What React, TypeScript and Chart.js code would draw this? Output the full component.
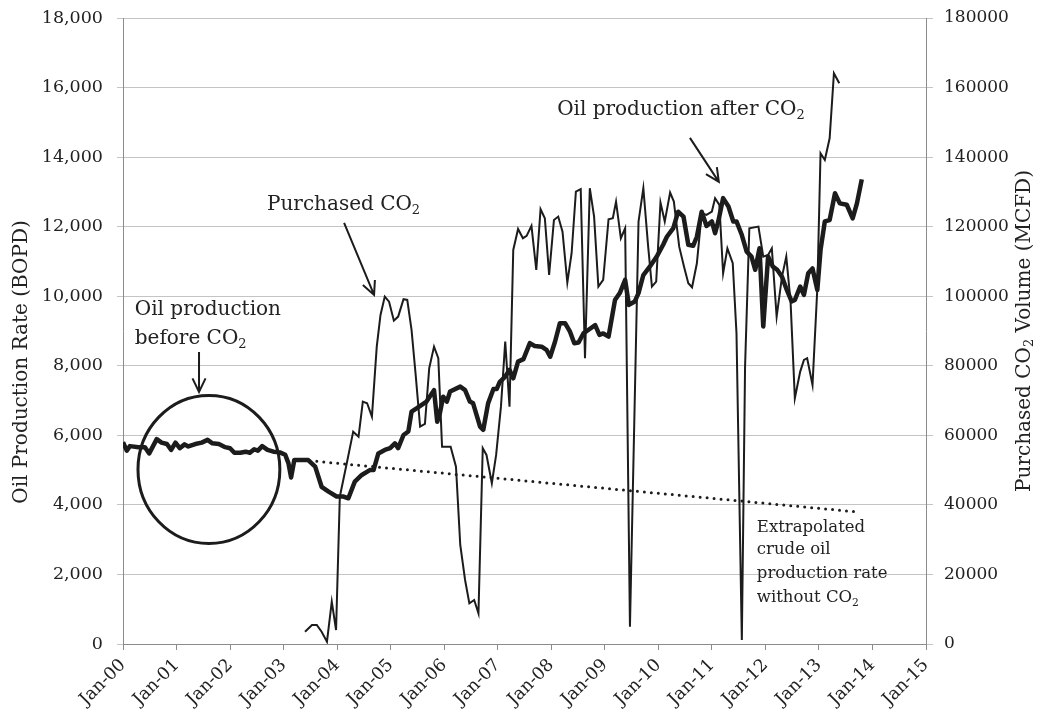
import { useEffect, useRef } from 'react';
import { Chart, registerables } from 'chart.js';

Chart.register(...registerables);

const FONT = '"DejaVu Serif", "Liberation Serif", serif';
const INK = '#1c1c1c';

const xTickLabels = ['Jan-00', 'Jan-01', 'Jan-02', 'Jan-03', 'Jan-04', 'Jan-05', 'Jan-06', 'Jan-07', 'Jan-08', 'Jan-09', 'Jan-10', 'Jan-11', 'Jan-12', 'Jan-13', 'Jan-14', 'Jan-15'];

// Oil production rate (BOPD), x in years since Jan-00
const oilYears = [0.0, 0.07, 0.13, 0.29, 0.41, 0.49, 0.63, 0.72, 0.82, 0.9, 0.98, 1.06, 1.15, 1.22, 1.35, 1.47, 1.58, 1.67, 1.79, 1.91, 2.0, 2.08, 2.19, 2.29, 2.37, 2.45, 2.52, 2.6, 2.7, 2.81, 2.93, 3.03, 3.09, 3.14, 3.2, 3.31, 3.46, 3.59, 3.71, 3.84, 3.99, 4.12, 4.21, 4.33, 4.46, 4.61, 4.68, 4.77, 4.89, 4.99, 5.08, 5.14, 5.24, 5.33, 5.39, 5.49, 5.67, 5.81, 5.87, 5.92, 5.98, 6.05, 6.11, 6.3, 6.39, 6.48, 6.54, 6.67, 6.73, 6.82, 6.92, 6.98, 7.04, 7.14, 7.22, 7.29, 7.38, 7.48, 7.6, 7.69, 7.82, 7.91, 7.98, 8.07, 8.16, 8.26, 8.35, 8.43, 8.51, 8.6, 8.69, 8.82, 8.9, 8.97, 9.07, 9.19, 9.28, 9.38, 9.45, 9.56, 9.63, 9.72, 9.84, 9.97, 10.09, 10.16, 10.28, 10.37, 10.47, 10.56, 10.65, 10.72, 10.81, 10.9, 11.0, 11.06, 11.12, 11.21, 11.31, 11.4, 11.46, 11.56, 11.65, 11.74, 11.81, 11.89, 11.96, 12.05, 12.14, 12.22, 12.31, 12.4, 12.49, 12.55, 12.65, 12.72, 12.8, 12.88, 12.97, 13.03, 13.11, 13.2, 13.3, 13.39, 13.52, 13.63, 13.71, 13.8];
const oilRate = [5800, 5560, 5690, 5660, 5660, 5480, 5890, 5790, 5750, 5580, 5790, 5630, 5740, 5680, 5750, 5790, 5870, 5770, 5750, 5660, 5630, 5500, 5500, 5530, 5500, 5600, 5560, 5690, 5580, 5530, 5510, 5440, 5200, 4790, 5290, 5290, 5290, 5100, 4520, 4380, 4240, 4240, 4190, 4670, 4860, 5000, 5000, 5480, 5580, 5630, 5770, 5630, 6010, 6110, 6680, 6780, 6970, 7300, 6390, 6640, 7110, 6970, 7260, 7400, 7300, 6970, 6920, 6250, 6160, 6920, 7330, 7330, 7540, 7690, 7880, 7640, 8120, 8190, 8650, 8570, 8550, 8460, 8260, 8690, 9220, 9220, 8980, 8650, 8670, 8930, 9030, 9170, 8890, 8930, 8840, 9890, 10090, 10470, 9750, 9850, 10090, 10610, 10850, 11140, 11480, 11710, 11960, 12430, 12290, 11480, 11450, 11710, 12430, 12020, 12150, 11810, 12150, 12820, 12580, 12150, 12150, 11760, 11280, 11140, 10760, 11380, 9130, 11140, 10850, 10760, 10560, 10180, 9850, 9890, 10280, 10040, 10660, 10800, 10180, 11330, 12150, 12190, 12960, 12670, 12630, 12240, 12670, 13360];

// Purchased CO2 volume (MCFD)
const co2Years = [3.4, 3.53, 3.62, 3.71, 3.81, 3.9, 3.98, 4.05, 4.18, 4.3, 4.4, 4.48, 4.56, 4.65, 4.74, 4.81, 4.89, 4.97, 5.06, 5.14, 5.24, 5.31, 5.39, 5.47, 5.55, 5.64, 5.72, 5.81, 5.89, 5.96, 6.12, 6.22, 6.3, 6.39, 6.47, 6.56, 6.64, 6.72, 6.79, 6.89, 6.97, 7.06, 7.14, 7.22, 7.29, 7.38, 7.47, 7.54, 7.63, 7.72, 7.8, 7.88, 7.96, 8.05, 8.13, 8.21, 8.3, 8.38, 8.46, 8.55, 8.63, 8.72, 8.8, 8.88, 8.97, 9.07, 9.15, 9.21, 9.3, 9.38, 9.47, 9.63, 9.72, 9.81, 9.88, 9.96, 10.04, 10.12, 10.22, 10.29, 10.39, 10.48, 10.56, 10.63, 10.72, 10.81, 10.9, 11.0, 11.06, 11.14, 11.21, 11.29, 11.39, 11.46, 11.56, 11.62, 11.7, 11.87, 11.96, 12.05, 12.12, 12.21, 12.31, 12.39, 12.47, 12.55, 12.65, 12.72, 12.78, 12.88, 12.97, 13.03, 13.11, 13.2, 13.28, 13.38];
const co2Volume = [3500, 5460, 5460, 3540, 660, 12170, 4030, 42360, 51960, 61060, 59620, 69690, 69220, 65380, 85500, 94620, 99880, 98440, 92980, 94140, 99130, 98930, 90300, 76860, 62500, 63270, 79300, 85500, 82170, 56740, 56740, 51000, 28480, 18400, 11700, 12650, 8830, 56280, 54360, 46220, 54360, 68250, 86940, 68250, 113300, 119350, 116680, 117340, 120220, 107560, 125020, 122430, 106120, 121940, 122900, 118580, 103920, 112360, 130080, 130770, 82170, 131060, 122900, 102760, 104690, 122140, 122430, 127200, 116680, 119540, 4990, 121460, 131060, 114260, 102760, 104200, 126920, 121460, 129790, 127200, 114260, 108500, 103730, 102570, 109480, 123860, 123370, 124330, 128170, 126250, 106600, 113780, 109480, 89360, 1150, 79750, 119540, 120020, 111380, 111860, 113780, 94140, 105640, 111380, 98440, 70660, 78320, 81680, 82170, 74490, 102300, 141120, 139190, 145420, 164130, 161250];

// Extrapolated oil rate without CO2 (BOPD)
const trendYears = [3.49, 13.67];
const trendRate = [5270, 3805];

const toXY = (xs: number[], ys: number[]) => xs.map((x, i) => ({ x, y: ys[i] }));

type Part = [string, boolean];

function richWidth(ctx: CanvasRenderingContext2D, parts: Part[], size: number) {
  let w = 0;
  for (const [t, sub] of parts) {
    ctx.font = `${sub ? size * 0.65 : size}px ${FONT}`;
    w += ctx.measureText(t).width;
  }
  return w;
}

function drawRich(ctx: CanvasRenderingContext2D, parts: Part[], x: number, y: number, size: number) {
  let cx = x;
  for (const [t, sub] of parts) {
    const fs = sub ? size * 0.65 : size;
    ctx.font = `${fs}px ${FONT}`;
    ctx.fillText(t, cx, sub ? y + size * 0.22 : y);
    cx += ctx.measureText(t).width;
  }
}

function arrow(ctx: CanvasRenderingContext2D, x0: number, y0: number, x1: number, y1: number) {
  const ang = Math.atan2(y1 - y0, x1 - x0);
  const hl = 15;
  const ha = 0.45;
  ctx.beginPath();
  ctx.moveTo(x0, y0);
  ctx.lineTo(x1, y1);
  ctx.moveTo(x1 - hl * Math.cos(ang - ha), y1 - hl * Math.sin(ang - ha));
  ctx.lineTo(x1, y1);
  ctx.lineTo(x1 - hl * Math.cos(ang + ha), y1 - hl * Math.sin(ang + ha));
  ctx.stroke();
}

function verticalTitle(ctx: CanvasRenderingContext2D, parts: Part[], x: number, y: number, size: number) {
  ctx.save();
  const w = richWidth(ctx, parts, size);
  ctx.translate(x, y);
  ctx.rotate(-Math.PI / 2);
  ctx.textBaseline = 'middle';
  ctx.textAlign = 'left';
  drawRich(ctx, parts, -w / 2, 0, size);
  ctx.restore();
}

const annotationPlugin = {
  id: 'annotations',
  afterDatasetsDraw(chart: any) {
    const ctx: CanvasRenderingContext2D = chart.ctx;
    const xs = chart.scales.x;
    const ys = chart.scales.y;
    const X = (v: number) => xs.getPixelForValue(v);
    const Y = (v: number) => ys.getPixelForValue(v);
    ctx.save();
    ctx.strokeStyle = INK;
    ctx.fillStyle = '#222';
    ctx.lineCap = 'butt';
    ctx.lineJoin = 'miter';

    // circle around pre-CO2 production
    const cx0 = X(0.28), cx1 = X(2.93), cy0 = Y(7148), cy1 = Y(2890);
    ctx.lineWidth = 3;
    ctx.beginPath();
    ctx.ellipse((cx0 + cx1) / 2, (cy0 + cy1) / 2, (cx1 - cx0) / 2, (cy1 - cy0) / 2, 0, 0, Math.PI * 2);
    ctx.stroke();

    // arrows
    ctx.lineWidth = 2;
    arrow(ctx, X(4.13), Y(12108), X(4.69), Y(10037));
    arrow(ctx, X(1.42), Y(8398), X(1.42), Y(7248));
    arrow(ctx, X(10.59), Y(14553), X(11.13), Y(13287));

    // texts
    ctx.textBaseline = 'alphabetic';
    ctx.textAlign = 'left';
    drawRich(ctx, [['Purchased CO', false], ['2', true]], X(2.69), Y(12482), 20);
    drawRich(ctx, [['Oil production', false]], X(0.22), Y(9462), 20);
    drawRich(ctx, [['before CO', false], ['2', true]], X(0.22), Y(8628), 20);
    drawRich(ctx, [['Oil production after CO', false], ['2', true]], X(8.11), Y(15214), 20);
    drawRich(ctx, [['Extrapolated', false]], X(11.84), Y(3221), 16.5);
    drawRich(ctx, [['crude oil', false]], X(11.84), Y(2588), 16.5);
    drawRich(ctx, [['production rate', false]], X(11.84), Y(1898), 16.5);
    drawRich(ctx, [['without CO', false], ['2', true]], X(11.84), Y(1208), 16.5);

    // axis titles
    verticalTitle(ctx, [['Oil Production Rate (BOPD)', false]], 22, 362, 20);
    verticalTitle(ctx, [['Purchased CO', false], ['2', true], [' Volume (MCFD)', false]], 1025, (chart.chartArea.top + chart.chartArea.bottom) / 2, 20);
    ctx.restore();
  },
};

export default function App() {
  const ref = useRef<HTMLCanvasElement>(null);
  useEffect(() => {
    if (!ref.current) return;
    Chart.defaults.font.family = FONT;
    Chart.defaults.color = '#222';
    const grid = '#c4c4c4';
    const axisLine = '#8c8c8c';
    const chart = new Chart(ref.current, {
      type: 'line',
      data: {
        datasets: [
          {
            label: 'Oil production',
            data: toXY(oilYears, oilRate),
            yAxisID: 'y',
            borderColor: INK,
            borderWidth: 4.5,
            pointRadius: 0,
            tension: 0,
            borderJoinStyle: 'round',
          },
          {
            label: 'Purchased CO2',
            data: toXY(co2Years, co2Volume),
            yAxisID: 'y1',
            borderColor: INK,
            borderWidth: 2,
            pointRadius: 0,
            tension: 0,
          },
          {
            label: 'Extrapolated',
            data: toXY(trendYears, trendRate),
            yAxisID: 'y',
            borderColor: INK,
            borderWidth: 3,
            borderDash: [0, 7],
            borderCapStyle: 'round',
            pointRadius: 0,
          },
        ],
      },
      options: {
        animation: false,
        responsive: false,
        layout: { padding: { top: 18, left: 0, right: 0, bottom: 0 } },
        plugins: { legend: { display: false }, tooltip: { enabled: false } },
        scales: {
          x: {
            type: 'linear',
            min: 0,
            max: 15,
            afterFit: (s: any) => { s.height = 78; },
            afterBuildTicks: (s: any) => { s.ticks = xTickLabels.map((_, i) => ({ value: i })); },
            ticks: {
              stepSize: 1,
              minRotation: 45,
              maxRotation: 45,
              padding: 5,
              font: { size: 17.5 },
              callback: (v: any) => xTickLabels[Number(v)] ?? '',
            },
            grid: { drawOnChartArea: false, drawTicks: true, tickLength: 6, color: axisLine },
            border: { display: true, color: axisLine, width: 1 },
          },
          y: {
            type: 'linear',
            position: 'left',
            min: 0,
            max: 18000,
            afterFit: (s: any) => { s.width = 123; s.paddingTop = 0; s.paddingBottom = 0; },
            ticks: {
              stepSize: 2000,
              padding: 14,
              font: { size: 17.5 },
              callback: (v: any) => Number(v).toLocaleString('en-US'),
            },
            grid: { color: grid, tickLength: 6 },
            border: { display: true, color: axisLine, width: 1 },
          },
          y1: {
            type: 'linear',
            position: 'right',
            min: 0,
            max: 180000,
            afterFit: (s: any) => { s.width = 111; s.paddingTop = 0; s.paddingBottom = 0; },
            ticks: {
              stepSize: 20000,
              padding: 11,
              font: { size: 17 },
              callback: (v: any) => String(v),
            },
            grid: { drawOnChartArea: false, color: grid, tickLength: 7 },
            border: { display: true, color: axisLine, width: 1 },
          },
        },
      },
      plugins: [annotationPlugin],
    } as any);
    return () => chart.destroy();
  }, []);
  return (
    <div style={{ position: 'fixed', left: 0, top: 0, width: 1037, height: 722, background: '#fff' }}>
      <canvas ref={ref} width={1037} height={722} style={{ width: 1037, height: 722, display: 'block' }} />
    </div>
  );
}
